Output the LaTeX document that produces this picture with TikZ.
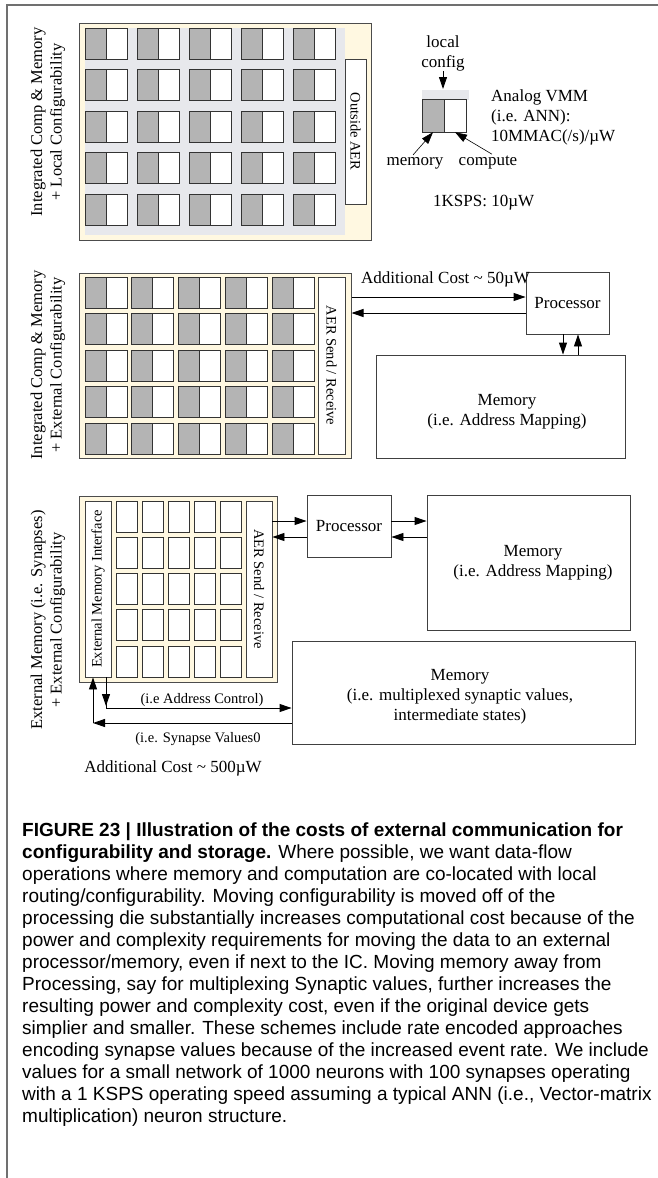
\documentclass[tikz,border=0pt]{standalone}
\usepackage{fontspec}
\setmainfont{Liberation Serif}
\newfontfamily\capfont{Liberation Sans}
\usetikzlibrary{arrows.meta,calc}
\definecolor{chipyel}{HTML}{FFF8E1}
\definecolor{memgray}{HTML}{B4B4B4}
\definecolor{gridgray}{HTML}{E7E8EC}
\definecolor{framegray}{HTML}{707070}
\begin{document}
\begin{tikzpicture}[x=1pt,y=-1pt,
  lbl/.style={font=\fontsize{17}{20}\selectfont, align=center, inner sep=0pt},
  sidelbl/.style={font=\fontsize{16.5}{19.5}\selectfont, align=center, inner sep=0pt},
  smlbl/.style={font=\fontsize{14.5}{17}\selectfont, inner sep=0pt},
  sml/.style={font=\fontsize{14.5}{17}\selectfont, inner sep=0pt},
  boxn/.style={draw=black!75, line width=0.9pt, fill=white, inner sep=0pt},
  chipn/.style={draw=black!70, fill=chipyel, line width=1pt, inner sep=0pt},
  arr/.style={line width=0.9pt, -{Triangle[length=12pt,width=8pt]}},
  thinarr/.style={line width=0.6pt, -{Triangle[length=12pt,width=8pt]}},
  cellline/.style={draw=black!80, line width=0.8pt},
  capline/.style={font=\capfont\fontsize{19}{22}\selectfont, anchor=base west, inner sep=0pt}
]
\useasboundingbox (0,0) rectangle (658,1178);
\fill[white] (0,0) rectangle (658,1178);
% frame
\draw[framegray, line width=1.3pt] (658,5) -- (7,5) -- (7,1178);

% ---------------- Panel 1 ----------------
\node[sidelbl, rotate=90] (lab1) at (48,122) {Integrated Comp \& Memory\\+ Local Configurability};
\node[chipn, minimum width=292pt, minimum height=217pt] (chip1) at (225,131.5) {};
\fill[gridgray] (85,28) rectangle (345,235);
\foreach \i in {0,...,4} \foreach \j in {0,...,4} {
  \pgfmathsetmacro\xa{85+52*\i}
  \pgfmathsetmacro\ya{28+41.5*\j}
  \fill[memgray] (\xa,\ya) rectangle ++(21,31);
  \fill[white] (\xa+21,\ya) rectangle ++(21,31);
  \draw[cellline] (\xa,\ya) rectangle ++(42,31) (\xa+21,\ya) -- ++(0,31);
}
\node[boxn, rotate=-90, minimum width=145pt, minimum height=21pt, sml] (aer1) at (355.5,131.5) {Outside AER};

% local config illustration
\node[lbl] (lc) at (443,53) {local\\config};
\fill[gridgray] (422,90) rectangle (469,100);
\coordinate (lcbar) at (443,89);
\node[inner sep=0pt, minimum width=43pt, minimum height=32pt] (vcell) at (444.5,116) {};
\fill[memgray] (vcell.south west) rectangle (vcell.north);
\draw[cellline] (vcell.south west) rectangle (vcell.north east) (vcell.south) -- (vcell.north);
\draw[arr] (lc.south) -- (lcbar);
\node[lbl] (memlbl) at (415,163) {memory};
\node[lbl] (complbl) at (488,163) {compute};
\draw[thinarr] ([xshift=-2pt,yshift=2pt]memlbl.north) -- ([xshift=-11.5pt]vcell.south);
\draw[thinarr] ([xshift=4pt,yshift=2pt]complbl.north) -- ([xshift=10.5pt]vcell.south);
\node[lbl, anchor=west, align=left] (vmm) at (491,117) {Analog VMM\\(i.e. ANN):\\10MMAC(/s)/µW};
\node[lbl, anchor=west] (ksps) at (433,203) {1KSPS: 10µW};

% ---------------- Panel 2 ----------------
\node[sidelbl, rotate=90] (lab2) at (48,365) {Integrated Comp \& Memory\\+ External Configurability};
\node[chipn, minimum width=272pt, minimum height=185pt] (chip2) at (215,365.5) {};
\foreach \i in {0,...,4} \foreach \j in {0,...,4} {
  \pgfmathsetmacro\xa{85+46.8*\i}
  \pgfmathsetmacro\ya{277+36.5*\j}
  \fill[memgray] (\xa,\ya) rectangle ++(21,31);
  \fill[white] (\xa+21,\ya) rectangle ++(21,31);
  \draw[cellline] (\xa,\ya) rectangle ++(42,31) (\xa+21,\ya) -- ++(0,31);
}
\node[boxn, rotate=-90, minimum width=177pt, minimum height=27pt, sml] (aer2) at (331.5,365.5) {AER Send / Receive};
\node[boxn, minimum width=83pt, minimum height=62pt] (proc2) at (567.5,303) {};
\node[lbl] (proc2t) at (proc2) {Processor};
\node[boxn, minimum width=249pt, minimum height=103pt] (mem2) at (500.5,406.5) {};
\node[lbl] (mem2t) at (507,412) {Memory\\(i.e. Address Mapping)};
\node[lbl, anchor=west] (cost2) at (361,279) {Additional Cost \textasciitilde{} 50µW};
\draw[arr] (chip2.east |- 0,297) -- (proc2.west |- 0,297);
\draw[arr] (proc2.west |- 0,313) -- (chip2.east |- 0,313);
\draw[arr] (proc2.south -| 563,0) -- (mem2.north -| 563,0);
\draw[arr] (mem2.north -| 578,0) -- (proc2.south -| 578,0);

% ---------------- Panel 3 ----------------
\node[sidelbl, rotate=90] (lab3) at (48,620) {External Memory (i.e. Synapses)\\+ External Configurability};
\node[chipn, minimum width=198pt, minimum height=186pt] (chip3) at (178,589) {};
\foreach \xa in {116,142,168,194,220} \foreach \j in {0,...,4} {
  \pgfmathsetmacro\ya{501+36.25*\j}
  \filldraw[fill=white, cellline] (\xa,\ya) rectangle ++(21,31);
}
\node[boxn, rotate=90, minimum width=176pt, minimum height=26pt, sml] (emi) at (98,589) {External Memory Interface};
\node[boxn, rotate=-90, minimum width=176pt, minimum height=26pt, sml] (aer3) at (259,589) {AER Send / Receive};
\node[boxn, minimum width=84pt, minimum height=62pt] (proc3) at (349,526) {};
\node[lbl] (proc3t) at (proc3) {Processor};
\node[boxn, minimum width=203pt, minimum height=135pt] (mem3) at (528.5,562.5) {};
\node[lbl] (mem3t) at (533,563) {Memory\\(i.e. Address Mapping)};
\node[boxn, minimum width=343pt, minimum height=103pt] (mem4) at (463.5,692.5) {};
\node[lbl] (mem4t) at (460,697) {Memory\\(i.e. multiplexed synaptic values,\\intermediate states)};
% aer3 is rotated -90: its north anchor is the right side
\draw[arr] (aer3.north |- 0,521) -- (proc3.west |- 0,521);
\draw[arr] (proc3.west |- 0,537) -- (aer3.north |- 0,537);
\draw[arr] (proc3.east |- 0,521) -- (mem3.west |- 0,521);
\draw[arr] (mem3.west |- 0,537) -- (proc3.east |- 0,537);
% external memory links (emi is rotated 90: its west anchor is the bottom)
\coordinate (c1) at (106,708);
\coordinate (c2) at (93,723);
\draw[arr] (emi.west -| 106,0) -- (106,706);
\draw[arr] (106,704) -- (c1) -- (mem4.west |- c1);
\draw[arr] (mem4.west |- c2) -- (c2);
\draw[arr] (c2) -- (emi.west -| 93,0);
\node[smlbl] (addr) at (202,700) {(i.e Address Control)};
\node[smlbl] (synv) at (198,739) {(i.e. Synapse Values0};
\node[lbl] (cost3) at (173,768) {Additional Cost \textasciitilde{} 500µW};

% ---------------- Caption ----------------
\node[capline] (cap1) at (22,836) {\bfseries FIGURE 23 | Illustration of the costs of external communication for};
\node[capline] (cap2) at (22,858) {\textbf{configurability and storage.} Where possible, we want data-flow};
\node[capline] (cap3) at (22,880) {operations where memory and computation are co-located with local};
\node[capline] (cap4) at (22,902) {routing/configurability. Moving configurability is moved off of the};
\node[capline] (cap5) at (22,924) {processing die substantially increases computational cost because of the};
\node[capline] (cap6) at (22,946) {power and complexity requirements for moving the data to an external};
\node[capline] (cap7) at (22,968) {processor/memory, even if next to the IC. Moving memory away from};
\node[capline] (cap8) at (22,990) {Processing, say for multiplexing Synaptic values, further increases the};
\node[capline] (cap9) at (22,1012) {resulting power and complexity cost, even if the original device gets};
\node[capline] (cap10) at (22,1034) {simplier and smaller. These schemes include rate encoded approaches};
\node[capline] (cap11) at (22,1056) {encoding synapse values because of the increased event rate. We include};
\node[capline] (cap12) at (22,1078) {values for a small network of 1000 neurons with 100 synapses operating};
\node[capline] (cap13) at (22,1100) {with a 1 KSPS operating speed assuming a typical ANN (i.e., Vector-matrix};
\node[capline] (cap14) at (22,1122) {multiplication) neuron structure.};
\end{tikzpicture}
\end{document}
